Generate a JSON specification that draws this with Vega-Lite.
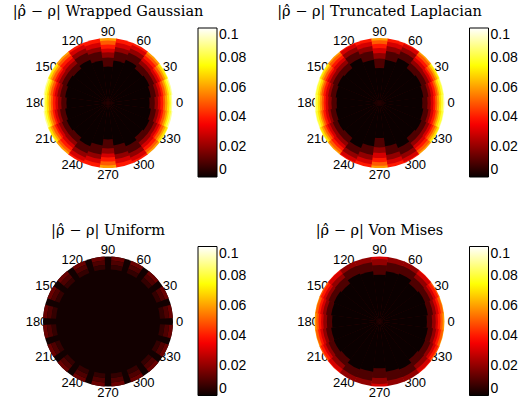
{
 "$schema": "https://vega.github.io/schema/vega-lite/v6.json",
 "background": "white",
 "padding": {"left": 12, "top": 4, "right": 0, "bottom": 5},
 "bounds": "flush",
 "columns": 2,
 "spacing": {"row": 68.5, "column": 141.5},
 "resolve": {"scale": {"color": "independent", "theta": "independent", "radius": "independent"}, "legend": {"color": "independent"}},
 "config": {
  "view": {"stroke": null},
  "title": {"font": "DejaVu Serif", "fontSize": 14.5, "fontWeight": "normal", "color": "black", "frame": "group", "anchor": "middle", "offset": 6},
  "legend": {"orient": "right", "offset": 25, "gradientLength": 149, "gradientThickness": 19, "gradientStrokeColor": "black", "gradientStrokeWidth": 1, "labelFont": "Liberation Sans", "labelFontSize": 14, "labelColor": "black", "labelOffset": 5, "labelOverlap": false}
 },
 "datasets": {
  "ticks": [{"a":0},{"a":30},{"a":60},{"a":90},{"a":120},{"a":150},{"a":180},{"a":210},{"a":240},{"a":270},{"a":300},{"a":330}],
  "W": [
   {"a":0,"v":0.1,"r":1},{"a":0,"v":0.09,"r":0.99},{"a":0,"v":0.08,"r":0.97},{"a":0,"v":0.07,"r":0.945},{"a":0,"v":0.06,"r":0.915},{"a":0,"v":0.05,"r":0.88},{"a":0,"v":0.04,"r":0.85},{"a":0,"v":0.03,"r":0.81},{"a":0,"v":0.02,"r":0.77},{"a":0,"v":0.01,"r":0.72},{"a":0,"v":0,"r":0.64},
   {"a":15,"v":0.09,"r":1},{"a":15,"v":0.08,"r":0.98},{"a":15,"v":0.07,"r":0.95},{"a":15,"v":0.06,"r":0.925},{"a":15,"v":0.05,"r":0.895},{"a":15,"v":0.04,"r":0.86},{"a":15,"v":0.03,"r":0.83},{"a":15,"v":0.02,"r":0.79},{"a":15,"v":0.01,"r":0.745},{"a":15,"v":0,"r":0.665},
   {"a":30,"v":0.08,"r":1},{"a":30,"v":0.07,"r":0.99},{"a":30,"v":0.06,"r":0.96},{"a":30,"v":0.05,"r":0.93},{"a":30,"v":0.04,"r":0.89},{"a":30,"v":0.03,"r":0.86},{"a":30,"v":0.02,"r":0.82},{"a":30,"v":0.01,"r":0.77},{"a":30,"v":0,"r":0.69},
   {"a":45,"v":0.06,"r":1},{"a":45,"v":0.05,"r":0.97},{"a":45,"v":0.04,"r":0.93},{"a":45,"v":0.03,"r":0.88},{"a":45,"v":0.02,"r":0.83},{"a":45,"v":0.01,"r":0.77},{"a":45,"v":0,"r":0.67},
   {"a":60,"v":0.04,"r":1},{"a":60,"v":0.03,"r":0.97},{"a":60,"v":0.02,"r":0.91},{"a":60,"v":0.01,"r":0.84},{"a":60,"v":0,"r":0.72},
   {"a":75,"v":0.04,"r":1},{"a":75,"v":0.03,"r":0.94},{"a":75,"v":0.02,"r":0.87},{"a":75,"v":0.01,"r":0.8},{"a":75,"v":0,"r":0.66},
   {"a":90,"v":0.06,"r":1},{"a":90,"v":0.05,"r":0.96},{"a":90,"v":0.04,"r":0.9},{"a":90,"v":0.03,"r":0.84},{"a":90,"v":0.02,"r":0.78},{"a":90,"v":0.01,"r":0.7},{"a":90,"v":0,"r":0.56},
   {"a":105,"v":0.04,"r":1},{"a":105,"v":0.03,"r":0.94},{"a":105,"v":0.02,"r":0.87},{"a":105,"v":0.01,"r":0.8},{"a":105,"v":0,"r":0.66},
   {"a":120,"v":0.04,"r":1},{"a":120,"v":0.03,"r":0.97},{"a":120,"v":0.02,"r":0.91},{"a":120,"v":0.01,"r":0.84},{"a":120,"v":0,"r":0.72},
   {"a":135,"v":0.06,"r":1},{"a":135,"v":0.05,"r":0.97},{"a":135,"v":0.04,"r":0.93},{"a":135,"v":0.03,"r":0.88},{"a":135,"v":0.02,"r":0.83},{"a":135,"v":0.01,"r":0.77},{"a":135,"v":0,"r":0.67},
   {"a":150,"v":0.08,"r":1},{"a":150,"v":0.07,"r":0.99},{"a":150,"v":0.06,"r":0.96},{"a":150,"v":0.05,"r":0.93},{"a":150,"v":0.04,"r":0.89},{"a":150,"v":0.03,"r":0.86},{"a":150,"v":0.02,"r":0.82},{"a":150,"v":0.01,"r":0.77},{"a":150,"v":0,"r":0.69},
   {"a":165,"v":0.09,"r":1},{"a":165,"v":0.08,"r":0.98},{"a":165,"v":0.07,"r":0.95},{"a":165,"v":0.06,"r":0.925},{"a":165,"v":0.05,"r":0.895},{"a":165,"v":0.04,"r":0.86},{"a":165,"v":0.03,"r":0.83},{"a":165,"v":0.02,"r":0.79},{"a":165,"v":0.01,"r":0.745},{"a":165,"v":0,"r":0.665},
   {"a":180,"v":0.1,"r":1},{"a":180,"v":0.09,"r":0.99},{"a":180,"v":0.08,"r":0.97},{"a":180,"v":0.07,"r":0.945},{"a":180,"v":0.06,"r":0.915},{"a":180,"v":0.05,"r":0.88},{"a":180,"v":0.04,"r":0.85},{"a":180,"v":0.03,"r":0.81},{"a":180,"v":0.02,"r":0.77},{"a":180,"v":0.01,"r":0.72},{"a":180,"v":0,"r":0.64},
   {"a":195,"v":0.09,"r":1},{"a":195,"v":0.08,"r":0.98},{"a":195,"v":0.07,"r":0.95},{"a":195,"v":0.06,"r":0.925},{"a":195,"v":0.05,"r":0.895},{"a":195,"v":0.04,"r":0.86},{"a":195,"v":0.03,"r":0.83},{"a":195,"v":0.02,"r":0.79},{"a":195,"v":0.01,"r":0.745},{"a":195,"v":0,"r":0.665},
   {"a":210,"v":0.08,"r":1},{"a":210,"v":0.07,"r":0.99},{"a":210,"v":0.06,"r":0.96},{"a":210,"v":0.05,"r":0.93},{"a":210,"v":0.04,"r":0.89},{"a":210,"v":0.03,"r":0.86},{"a":210,"v":0.02,"r":0.82},{"a":210,"v":0.01,"r":0.77},{"a":210,"v":0,"r":0.69},
   {"a":225,"v":0.06,"r":1},{"a":225,"v":0.05,"r":0.97},{"a":225,"v":0.04,"r":0.93},{"a":225,"v":0.03,"r":0.88},{"a":225,"v":0.02,"r":0.83},{"a":225,"v":0.01,"r":0.77},{"a":225,"v":0,"r":0.67},
   {"a":240,"v":0.04,"r":1},{"a":240,"v":0.03,"r":0.97},{"a":240,"v":0.02,"r":0.91},{"a":240,"v":0.01,"r":0.84},{"a":240,"v":0,"r":0.72},
   {"a":255,"v":0.04,"r":1},{"a":255,"v":0.03,"r":0.94},{"a":255,"v":0.02,"r":0.87},{"a":255,"v":0.01,"r":0.8},{"a":255,"v":0,"r":0.66},
   {"a":270,"v":0.06,"r":1},{"a":270,"v":0.05,"r":0.96},{"a":270,"v":0.04,"r":0.9},{"a":270,"v":0.03,"r":0.84},{"a":270,"v":0.02,"r":0.78},{"a":270,"v":0.01,"r":0.7},{"a":270,"v":0,"r":0.56},
   {"a":285,"v":0.04,"r":1},{"a":285,"v":0.03,"r":0.94},{"a":285,"v":0.02,"r":0.87},{"a":285,"v":0.01,"r":0.8},{"a":285,"v":0,"r":0.66},
   {"a":300,"v":0.04,"r":1},{"a":300,"v":0.03,"r":0.97},{"a":300,"v":0.02,"r":0.91},{"a":300,"v":0.01,"r":0.84},{"a":300,"v":0,"r":0.72},
   {"a":315,"v":0.06,"r":1},{"a":315,"v":0.05,"r":0.97},{"a":315,"v":0.04,"r":0.93},{"a":315,"v":0.03,"r":0.88},{"a":315,"v":0.02,"r":0.83},{"a":315,"v":0.01,"r":0.77},{"a":315,"v":0,"r":0.67},
   {"a":330,"v":0.08,"r":1},{"a":330,"v":0.07,"r":0.99},{"a":330,"v":0.06,"r":0.96},{"a":330,"v":0.05,"r":0.93},{"a":330,"v":0.04,"r":0.89},{"a":330,"v":0.03,"r":0.86},{"a":330,"v":0.02,"r":0.82},{"a":330,"v":0.01,"r":0.77},{"a":330,"v":0,"r":0.69},
   {"a":345,"v":0.09,"r":1},{"a":345,"v":0.08,"r":0.98},{"a":345,"v":0.07,"r":0.95},{"a":345,"v":0.06,"r":0.925},{"a":345,"v":0.05,"r":0.895},{"a":345,"v":0.04,"r":0.86},{"a":345,"v":0.03,"r":0.83},{"a":345,"v":0.02,"r":0.79},{"a":345,"v":0.01,"r":0.745},{"a":345,"v":0,"r":0.665}
  ],
  "T": [
   {"a":0,"v":0.09,"r":1},{"a":0,"v":0.08,"r":0.98},{"a":0,"v":0.07,"r":0.95},{"a":0,"v":0.06,"r":0.92},{"a":0,"v":0.05,"r":0.89},{"a":0,"v":0.04,"r":0.86},{"a":0,"v":0.03,"r":0.83},{"a":0,"v":0.02,"r":0.79},{"a":0,"v":0.01,"r":0.74},{"a":0,"v":0,"r":0.66},
   {"a":15,"v":0.09,"r":1},{"a":15,"v":0.08,"r":0.99},{"a":15,"v":0.07,"r":0.96},{"a":15,"v":0.06,"r":0.93},{"a":15,"v":0.05,"r":0.905},{"a":15,"v":0.04,"r":0.875},{"a":15,"v":0.03,"r":0.84},{"a":15,"v":0.02,"r":0.8},{"a":15,"v":0.01,"r":0.76},{"a":15,"v":0,"r":0.68},
   {"a":30,"v":0.08,"r":1},{"a":30,"v":0.07,"r":0.99},{"a":30,"v":0.06,"r":0.965},{"a":30,"v":0.05,"r":0.935},{"a":30,"v":0.04,"r":0.9},{"a":30,"v":0.03,"r":0.87},{"a":30,"v":0.02,"r":0.83},{"a":30,"v":0.01,"r":0.78},{"a":30,"v":0,"r":0.7},
   {"a":45,"v":0.06,"r":1},{"a":45,"v":0.05,"r":0.975},{"a":45,"v":0.04,"r":0.935},{"a":45,"v":0.03,"r":0.89},{"a":45,"v":0.02,"r":0.84},{"a":45,"v":0.01,"r":0.78},{"a":45,"v":0,"r":0.68},
   {"a":60,"v":0.04,"r":1},{"a":60,"v":0.03,"r":0.985},{"a":60,"v":0.02,"r":0.93},{"a":60,"v":0.01,"r":0.86},{"a":60,"v":0,"r":0.75},
   {"a":75,"v":0.04,"r":1},{"a":75,"v":0.03,"r":0.95},{"a":75,"v":0.02,"r":0.885},{"a":75,"v":0.01,"r":0.805},{"a":75,"v":0,"r":0.67},
   {"a":90,"v":0.06,"r":1},{"a":90,"v":0.05,"r":0.965},{"a":90,"v":0.04,"r":0.91},{"a":90,"v":0.03,"r":0.845},{"a":90,"v":0.02,"r":0.77},{"a":90,"v":0.01,"r":0.685},{"a":90,"v":0,"r":0.54},
   {"a":105,"v":0.04,"r":1},{"a":105,"v":0.03,"r":0.95},{"a":105,"v":0.02,"r":0.885},{"a":105,"v":0.01,"r":0.805},{"a":105,"v":0,"r":0.67},
   {"a":120,"v":0.04,"r":1},{"a":120,"v":0.03,"r":0.985},{"a":120,"v":0.02,"r":0.93},{"a":120,"v":0.01,"r":0.86},{"a":120,"v":0,"r":0.75},
   {"a":135,"v":0.06,"r":1},{"a":135,"v":0.05,"r":0.975},{"a":135,"v":0.04,"r":0.935},{"a":135,"v":0.03,"r":0.89},{"a":135,"v":0.02,"r":0.84},{"a":135,"v":0.01,"r":0.78},{"a":135,"v":0,"r":0.68},
   {"a":150,"v":0.08,"r":1},{"a":150,"v":0.07,"r":0.99},{"a":150,"v":0.06,"r":0.965},{"a":150,"v":0.05,"r":0.935},{"a":150,"v":0.04,"r":0.9},{"a":150,"v":0.03,"r":0.87},{"a":150,"v":0.02,"r":0.83},{"a":150,"v":0.01,"r":0.78},{"a":150,"v":0,"r":0.7},
   {"a":165,"v":0.09,"r":1},{"a":165,"v":0.08,"r":0.99},{"a":165,"v":0.07,"r":0.96},{"a":165,"v":0.06,"r":0.93},{"a":165,"v":0.05,"r":0.905},{"a":165,"v":0.04,"r":0.875},{"a":165,"v":0.03,"r":0.84},{"a":165,"v":0.02,"r":0.8},{"a":165,"v":0.01,"r":0.76},{"a":165,"v":0,"r":0.68},
   {"a":180,"v":0.09,"r":1},{"a":180,"v":0.08,"r":0.98},{"a":180,"v":0.07,"r":0.95},{"a":180,"v":0.06,"r":0.92},{"a":180,"v":0.05,"r":0.89},{"a":180,"v":0.04,"r":0.86},{"a":180,"v":0.03,"r":0.83},{"a":180,"v":0.02,"r":0.79},{"a":180,"v":0.01,"r":0.74},{"a":180,"v":0,"r":0.66},
   {"a":195,"v":0.09,"r":1},{"a":195,"v":0.08,"r":0.99},{"a":195,"v":0.07,"r":0.96},{"a":195,"v":0.06,"r":0.93},{"a":195,"v":0.05,"r":0.905},{"a":195,"v":0.04,"r":0.875},{"a":195,"v":0.03,"r":0.84},{"a":195,"v":0.02,"r":0.8},{"a":195,"v":0.01,"r":0.76},{"a":195,"v":0,"r":0.68},
   {"a":210,"v":0.08,"r":1},{"a":210,"v":0.07,"r":0.99},{"a":210,"v":0.06,"r":0.965},{"a":210,"v":0.05,"r":0.935},{"a":210,"v":0.04,"r":0.9},{"a":210,"v":0.03,"r":0.87},{"a":210,"v":0.02,"r":0.83},{"a":210,"v":0.01,"r":0.78},{"a":210,"v":0,"r":0.7},
   {"a":225,"v":0.06,"r":1},{"a":225,"v":0.05,"r":0.975},{"a":225,"v":0.04,"r":0.935},{"a":225,"v":0.03,"r":0.89},{"a":225,"v":0.02,"r":0.84},{"a":225,"v":0.01,"r":0.78},{"a":225,"v":0,"r":0.68},
   {"a":240,"v":0.04,"r":1},{"a":240,"v":0.03,"r":0.985},{"a":240,"v":0.02,"r":0.93},{"a":240,"v":0.01,"r":0.86},{"a":240,"v":0,"r":0.75},
   {"a":255,"v":0.04,"r":1},{"a":255,"v":0.03,"r":0.95},{"a":255,"v":0.02,"r":0.885},{"a":255,"v":0.01,"r":0.805},{"a":255,"v":0,"r":0.67},
   {"a":270,"v":0.06,"r":1},{"a":270,"v":0.05,"r":0.965},{"a":270,"v":0.04,"r":0.91},{"a":270,"v":0.03,"r":0.845},{"a":270,"v":0.02,"r":0.77},{"a":270,"v":0.01,"r":0.685},{"a":270,"v":0,"r":0.54},
   {"a":285,"v":0.04,"r":1},{"a":285,"v":0.03,"r":0.95},{"a":285,"v":0.02,"r":0.885},{"a":285,"v":0.01,"r":0.805},{"a":285,"v":0,"r":0.67},
   {"a":300,"v":0.04,"r":1},{"a":300,"v":0.03,"r":0.985},{"a":300,"v":0.02,"r":0.93},{"a":300,"v":0.01,"r":0.86},{"a":300,"v":0,"r":0.75},
   {"a":315,"v":0.06,"r":1},{"a":315,"v":0.05,"r":0.975},{"a":315,"v":0.04,"r":0.935},{"a":315,"v":0.03,"r":0.89},{"a":315,"v":0.02,"r":0.84},{"a":315,"v":0.01,"r":0.78},{"a":315,"v":0,"r":0.68},
   {"a":330,"v":0.08,"r":1},{"a":330,"v":0.07,"r":0.99},{"a":330,"v":0.06,"r":0.965},{"a":330,"v":0.05,"r":0.935},{"a":330,"v":0.04,"r":0.9},{"a":330,"v":0.03,"r":0.87},{"a":330,"v":0.02,"r":0.83},{"a":330,"v":0.01,"r":0.78},{"a":330,"v":0,"r":0.7},
   {"a":345,"v":0.09,"r":1},{"a":345,"v":0.08,"r":0.99},{"a":345,"v":0.07,"r":0.96},{"a":345,"v":0.06,"r":0.93},{"a":345,"v":0.05,"r":0.905},{"a":345,"v":0.04,"r":0.875},{"a":345,"v":0.03,"r":0.84},{"a":345,"v":0.02,"r":0.8},{"a":345,"v":0.01,"r":0.76},{"a":345,"v":0,"r":0.68}
  ],
  "Ub": [{"v":0.001,"r0":0,"r":1}],
  "U": [
   {"a":9,"v":0.014,"r0":0.94,"r":1},{"a":9,"v":0.01,"r0":0.87,"r":0.94},{"a":9,"v":0.006,"r0":0.8,"r":0.87},
   {"a":27,"v":0.014,"r0":0.94,"r":1},{"a":27,"v":0.01,"r0":0.87,"r":0.94},{"a":27,"v":0.006,"r0":0.8,"r":0.87},
   {"a":45,"v":0.014,"r0":0.94,"r":1},{"a":45,"v":0.01,"r0":0.87,"r":0.94},{"a":45,"v":0.006,"r0":0.8,"r":0.87},
   {"a":63,"v":0.014,"r0":0.94,"r":1},{"a":63,"v":0.01,"r0":0.87,"r":0.94},{"a":63,"v":0.006,"r0":0.8,"r":0.87},
   {"a":81,"v":0.014,"r0":0.94,"r":1},{"a":81,"v":0.01,"r0":0.87,"r":0.94},{"a":81,"v":0.006,"r0":0.8,"r":0.87},
   {"a":99,"v":0.014,"r0":0.94,"r":1},{"a":99,"v":0.01,"r0":0.87,"r":0.94},{"a":99,"v":0.006,"r0":0.8,"r":0.87},
   {"a":117,"v":0.014,"r0":0.94,"r":1},{"a":117,"v":0.01,"r0":0.87,"r":0.94},{"a":117,"v":0.006,"r0":0.8,"r":0.87},
   {"a":135,"v":0.014,"r0":0.94,"r":1},{"a":135,"v":0.01,"r0":0.87,"r":0.94},{"a":135,"v":0.006,"r0":0.8,"r":0.87},
   {"a":153,"v":0.014,"r0":0.94,"r":1},{"a":153,"v":0.01,"r0":0.87,"r":0.94},{"a":153,"v":0.006,"r0":0.8,"r":0.87},
   {"a":171,"v":0.014,"r0":0.94,"r":1},{"a":171,"v":0.01,"r0":0.87,"r":0.94},{"a":171,"v":0.006,"r0":0.8,"r":0.87},
   {"a":189,"v":0.014,"r0":0.94,"r":1},{"a":189,"v":0.01,"r0":0.87,"r":0.94},{"a":189,"v":0.006,"r0":0.8,"r":0.87},
   {"a":207,"v":0.014,"r0":0.94,"r":1},{"a":207,"v":0.01,"r0":0.87,"r":0.94},{"a":207,"v":0.006,"r0":0.8,"r":0.87},
   {"a":225,"v":0.014,"r0":0.94,"r":1},{"a":225,"v":0.01,"r0":0.87,"r":0.94},{"a":225,"v":0.006,"r0":0.8,"r":0.87},
   {"a":243,"v":0.014,"r0":0.94,"r":1},{"a":243,"v":0.01,"r0":0.87,"r":0.94},{"a":243,"v":0.006,"r0":0.8,"r":0.87},
   {"a":261,"v":0.014,"r0":0.94,"r":1},{"a":261,"v":0.01,"r0":0.87,"r":0.94},{"a":261,"v":0.006,"r0":0.8,"r":0.87},
   {"a":279,"v":0.014,"r0":0.94,"r":1},{"a":279,"v":0.01,"r0":0.87,"r":0.94},{"a":279,"v":0.006,"r0":0.8,"r":0.87},
   {"a":297,"v":0.014,"r0":0.94,"r":1},{"a":297,"v":0.01,"r0":0.87,"r":0.94},{"a":297,"v":0.006,"r0":0.8,"r":0.87},
   {"a":315,"v":0.014,"r0":0.94,"r":1},{"a":315,"v":0.01,"r0":0.87,"r":0.94},{"a":315,"v":0.006,"r0":0.8,"r":0.87},
   {"a":333,"v":0.014,"r0":0.94,"r":1},{"a":333,"v":0.01,"r0":0.87,"r":0.94},{"a":333,"v":0.006,"r0":0.8,"r":0.87},
   {"a":351,"v":0.014,"r0":0.94,"r":1},{"a":351,"v":0.01,"r0":0.87,"r":0.94},{"a":351,"v":0.006,"r0":0.8,"r":0.87}
  ],
  "V": [
   {"a":0,"v":0.06,"r":1},{"a":0,"v":0.05,"r":0.975},{"a":0,"v":0.04,"r":0.94},{"a":0,"v":0.03,"r":0.9},{"a":0,"v":0.02,"r":0.865},{"a":0,"v":0.01,"r":0.81},{"a":0,"v":0,"r":0.73},
   {"a":15,"v":0.06,"r":1},{"a":15,"v":0.05,"r":0.99},{"a":15,"v":0.04,"r":0.955},{"a":15,"v":0.03,"r":0.92},{"a":15,"v":0.02,"r":0.88},{"a":15,"v":0.01,"r":0.83},{"a":15,"v":0,"r":0.75},
   {"a":30,"v":0.05,"r":1},{"a":30,"v":0.04,"r":0.98},{"a":30,"v":0.03,"r":0.94},{"a":30,"v":0.02,"r":0.9},{"a":30,"v":0.01,"r":0.85},{"a":30,"v":0,"r":0.76},
   {"a":45,"v":0.04,"r":1},{"a":45,"v":0.03,"r":0.99},{"a":45,"v":0.02,"r":0.93},{"a":45,"v":0.01,"r":0.86},{"a":45,"v":0,"r":0.74},
   {"a":60,"v":0.02,"r":1},{"a":60,"v":0.01,"r":0.925},{"a":60,"v":0,"r":0.8},
   {"a":75,"v":0.02,"r":1},{"a":75,"v":0.01,"r":0.92},{"a":75,"v":0,"r":0.78},
   {"a":90,"v":0.03,"r":1},{"a":90,"v":0.02,"r":0.96},{"a":90,"v":0.01,"r":0.87},{"a":90,"v":0,"r":0.72},
   {"a":105,"v":0.02,"r":1},{"a":105,"v":0.01,"r":0.92},{"a":105,"v":0,"r":0.78},
   {"a":120,"v":0.02,"r":1},{"a":120,"v":0.01,"r":0.925},{"a":120,"v":0,"r":0.8},
   {"a":135,"v":0.04,"r":1},{"a":135,"v":0.03,"r":0.99},{"a":135,"v":0.02,"r":0.93},{"a":135,"v":0.01,"r":0.86},{"a":135,"v":0,"r":0.74},
   {"a":150,"v":0.05,"r":1},{"a":150,"v":0.04,"r":0.98},{"a":150,"v":0.03,"r":0.94},{"a":150,"v":0.02,"r":0.9},{"a":150,"v":0.01,"r":0.85},{"a":150,"v":0,"r":0.76},
   {"a":165,"v":0.06,"r":1},{"a":165,"v":0.05,"r":0.99},{"a":165,"v":0.04,"r":0.955},{"a":165,"v":0.03,"r":0.92},{"a":165,"v":0.02,"r":0.88},{"a":165,"v":0.01,"r":0.83},{"a":165,"v":0,"r":0.75},
   {"a":180,"v":0.06,"r":1},{"a":180,"v":0.05,"r":0.975},{"a":180,"v":0.04,"r":0.94},{"a":180,"v":0.03,"r":0.9},{"a":180,"v":0.02,"r":0.865},{"a":180,"v":0.01,"r":0.81},{"a":180,"v":0,"r":0.73},
   {"a":195,"v":0.06,"r":1},{"a":195,"v":0.05,"r":0.99},{"a":195,"v":0.04,"r":0.955},{"a":195,"v":0.03,"r":0.92},{"a":195,"v":0.02,"r":0.88},{"a":195,"v":0.01,"r":0.83},{"a":195,"v":0,"r":0.75},
   {"a":210,"v":0.05,"r":1},{"a":210,"v":0.04,"r":0.98},{"a":210,"v":0.03,"r":0.94},{"a":210,"v":0.02,"r":0.9},{"a":210,"v":0.01,"r":0.85},{"a":210,"v":0,"r":0.76},
   {"a":225,"v":0.04,"r":1},{"a":225,"v":0.03,"r":0.99},{"a":225,"v":0.02,"r":0.93},{"a":225,"v":0.01,"r":0.86},{"a":225,"v":0,"r":0.74},
   {"a":240,"v":0.02,"r":1},{"a":240,"v":0.01,"r":0.925},{"a":240,"v":0,"r":0.8},
   {"a":255,"v":0.02,"r":1},{"a":255,"v":0.01,"r":0.92},{"a":255,"v":0,"r":0.78},
   {"a":270,"v":0.03,"r":1},{"a":270,"v":0.02,"r":0.96},{"a":270,"v":0.01,"r":0.87},{"a":270,"v":0,"r":0.72},
   {"a":285,"v":0.02,"r":1},{"a":285,"v":0.01,"r":0.92},{"a":285,"v":0,"r":0.78},
   {"a":300,"v":0.02,"r":1},{"a":300,"v":0.01,"r":0.925},{"a":300,"v":0,"r":0.8},
   {"a":315,"v":0.04,"r":1},{"a":315,"v":0.03,"r":0.99},{"a":315,"v":0.02,"r":0.93},{"a":315,"v":0.01,"r":0.86},{"a":315,"v":0,"r":0.74},
   {"a":330,"v":0.05,"r":1},{"a":330,"v":0.04,"r":0.98},{"a":330,"v":0.03,"r":0.94},{"a":330,"v":0.02,"r":0.9},{"a":330,"v":0.01,"r":0.85},{"a":330,"v":0,"r":0.76},
   {"a":345,"v":0.06,"r":1},{"a":345,"v":0.05,"r":0.99},{"a":345,"v":0.04,"r":0.955},{"a":345,"v":0.03,"r":0.92},{"a":345,"v":0.02,"r":0.88},{"a":345,"v":0.01,"r":0.83},{"a":345,"v":0,"r":0.75}
  ]
 },
 "concat": [
  {
   "width": 130, "height": 150,
   "title": {"text": "|ρ̂ − ρ| Wrapped Gaussian"},
   "layer": [
    {"data": {"name": "ticks"}, "mark": {"type": "text", "font": "Liberation Sans", "fontSize": 13, "color": "black", "align": "center", "baseline": "middle"},
     "encoding": {"theta": {"field": "a", "type": "quantitative", "stack": null, "scale": {"type": "linear", "domain": [0, 360], "range": [1.5708, -4.7124], "zero": false}},
      "radius": {"datum": 1.1, "type": "quantitative", "scale": {"type": "linear", "domain": [0, 1], "range": [0, 65], "zero": true}},
      "text": {"field": "a", "type": "quantitative"}}},
    {"data": {"name": "W"}, "mark": {"type": "arc", "thetaOffset": -0.1345, "theta2Offset": 0.1345},
     "encoding": {"theta": {"field": "a", "type": "quantitative", "stack": null}, "theta2": {"field": "a"},
      "radius": {"field": "r", "type": "quantitative"},
      "order": {"field": "v", "type": "quantitative", "sort": "descending"},
      "color": {"field": "v", "type": "quantitative", "scale": {"type": "linear", "interpolate": "rgb", "domain": [0, 0.0365, 0.0746, 0.1], "range": ["#0b0000", "#ff0000", "#ffff00", "#ffffff"]}, "legend": {"title": null, "values": [0, 0.02, 0.04, 0.06, 0.08, 0.1], "format": ".2~f", "labelBaseline": "middle"}}}}
   ]
  },
  {
   "width": 130, "height": 150,
   "title": {"text": "|ρ̂ − ρ| Truncated Laplacian"},
   "layer": [
    {"data": {"name": "ticks"}, "mark": {"type": "text", "font": "Liberation Sans", "fontSize": 13, "color": "black", "align": "center", "baseline": "middle"},
     "encoding": {"theta": {"field": "a", "type": "quantitative", "stack": null, "scale": {"type": "linear", "domain": [0, 360], "range": [1.5708, -4.7124], "zero": false}},
      "radius": {"datum": 1.1, "type": "quantitative", "scale": {"type": "linear", "domain": [0, 1], "range": [0, 65], "zero": true}},
      "text": {"field": "a", "type": "quantitative"}}},
    {"data": {"name": "T"}, "mark": {"type": "arc", "thetaOffset": -0.1345, "theta2Offset": 0.1345},
     "encoding": {"theta": {"field": "a", "type": "quantitative", "stack": null}, "theta2": {"field": "a"},
      "radius": {"field": "r", "type": "quantitative"},
      "order": {"field": "v", "type": "quantitative", "sort": "descending"},
      "color": {"field": "v", "type": "quantitative", "scale": {"type": "linear", "interpolate": "rgb", "domain": [0, 0.0365, 0.0746, 0.1], "range": ["#0b0000", "#ff0000", "#ffff00", "#ffffff"]}, "legend": {"title": null, "values": [0, 0.02, 0.04, 0.06, 0.08, 0.1], "format": ".2~f", "labelBaseline": "middle"}}}}
   ]
  },
  {
   "width": 130, "height": 150,
   "title": {"text": "|ρ̂ − ρ| Uniform"},
   "layer": [
    {"data": {"name": "ticks"}, "mark": {"type": "text", "font": "Liberation Sans", "fontSize": 13, "color": "black", "align": "center", "baseline": "middle"},
     "encoding": {"theta": {"field": "a", "type": "quantitative", "stack": null, "scale": {"type": "linear", "domain": [0, 360], "range": [1.5708, -4.7124], "zero": false}},
      "radius": {"datum": 1.1, "type": "quantitative", "scale": {"type": "linear", "domain": [0, 1], "range": [0, 65], "zero": true}},
      "text": {"field": "a", "type": "quantitative"}}},
    {"data": {"name": "Ub"}, "mark": {"type": "arc", "theta": 0, "theta2": 6.2832},
     "encoding": {"radius": {"field": "r", "type": "quantitative"}, "radius2": {"field": "r0"},
      "color": {"field": "v", "type": "quantitative"}}},
    {"data": {"name": "U"}, "mark": {"type": "arc", "thetaOffset": -0.1047, "theta2Offset": 0.1047},
     "encoding": {"theta": {"field": "a", "type": "quantitative", "stack": null}, "theta2": {"field": "a"},
      "radius": {"field": "r", "type": "quantitative"}, "radius2": {"field": "r0"},
      "color": {"field": "v", "type": "quantitative", "scale": {"type": "linear", "interpolate": "rgb", "domain": [0, 0.0365, 0.0746, 0.1], "range": ["#0b0000", "#ff0000", "#ffff00", "#ffffff"]}, "legend": {"title": null, "values": [0, 0.02, 0.04, 0.06, 0.08, 0.1], "format": ".2~f", "labelBaseline": "middle"}}}}
   ]
  },
  {
   "width": 130, "height": 150,
   "title": {"text": "|ρ̂ − ρ| Von Mises"},
   "layer": [
    {"data": {"name": "ticks"}, "mark": {"type": "text", "font": "Liberation Sans", "fontSize": 13, "color": "black", "align": "center", "baseline": "middle"},
     "encoding": {"theta": {"field": "a", "type": "quantitative", "stack": null, "scale": {"type": "linear", "domain": [0, 360], "range": [1.5708, -4.7124], "zero": false}},
      "radius": {"datum": 1.1, "type": "quantitative", "scale": {"type": "linear", "domain": [0, 1], "range": [0, 65], "zero": true}},
      "text": {"field": "a", "type": "quantitative"}}},
    {"data": {"name": "V"}, "mark": {"type": "arc", "thetaOffset": -0.1345, "theta2Offset": 0.1345},
     "encoding": {"theta": {"field": "a", "type": "quantitative", "stack": null}, "theta2": {"field": "a"},
      "radius": {"field": "r", "type": "quantitative"},
      "order": {"field": "v", "type": "quantitative", "sort": "descending"},
      "color": {"field": "v", "type": "quantitative", "scale": {"type": "linear", "interpolate": "rgb", "domain": [0, 0.0365, 0.0746, 0.1], "range": ["#0b0000", "#ff0000", "#ffff00", "#ffffff"]}, "legend": {"title": null, "values": [0, 0.02, 0.04, 0.06, 0.08, 0.1], "format": ".2~f", "labelBaseline": "middle"}}}}
   ]
  }
 ]
}
